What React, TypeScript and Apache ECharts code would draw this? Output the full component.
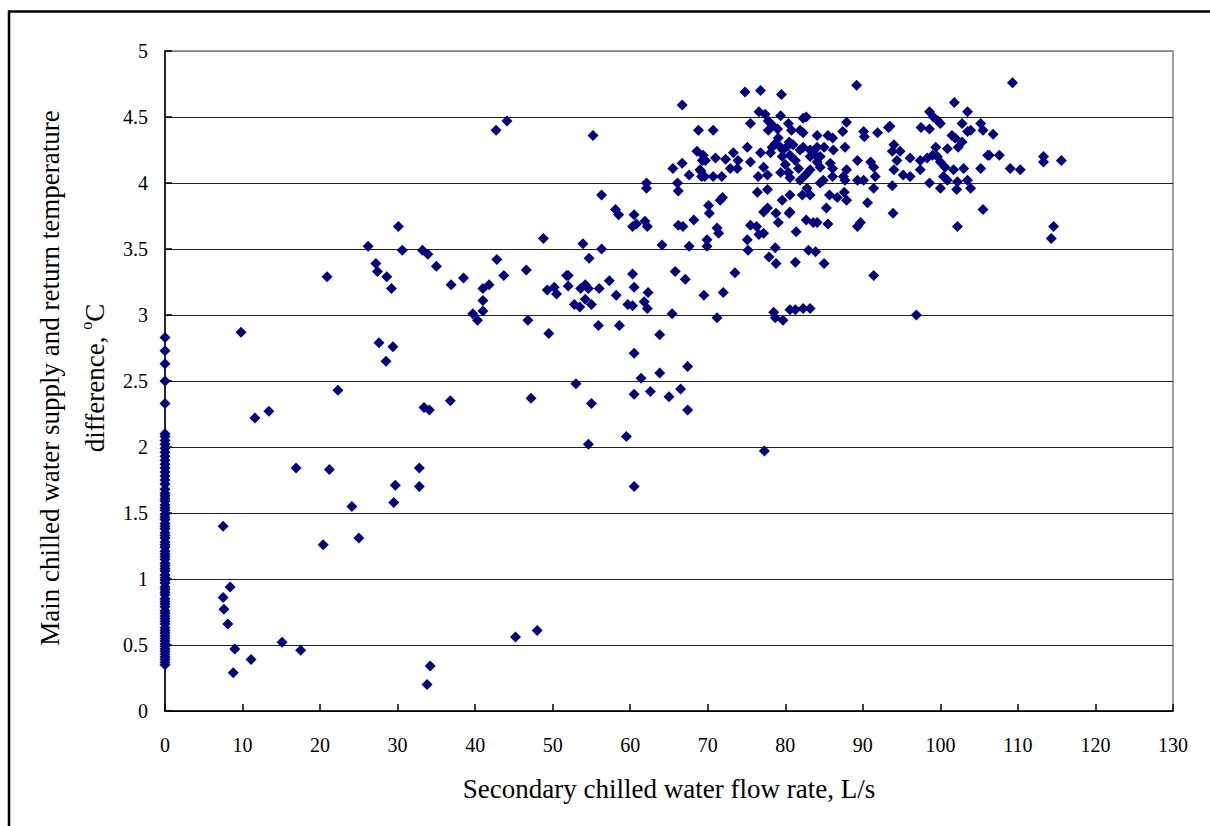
import React, { useEffect, useRef } from "react";
import * as echarts from "echarts";

// Flow rate = 0 L/s: temperature differences (°C)
const zeroFlowDeltaT: number[] = [
  0.35, 0.37, 0.39, 0.41, 0.43, 0.45, 0.47, 0.49, 0.51, 0.53, 0.55, 0.57, 0.59, 0.61, 0.63,
  0.66, 0.68, 0.7, 0.72, 0.74, 0.76, 0.79, 0.81, 0.83, 0.85, 0.88, 0.9, 0.92, 0.94, 0.97,
  0.99, 1.01, 1.03, 1.06, 1.08, 1.1, 1.12, 1.15, 1.17, 1.19, 1.21, 1.24, 1.26, 1.28, 1.31,
  1.33, 1.35, 1.38, 1.4, 1.42, 1.45, 1.47, 1.49, 1.52, 1.54, 1.56, 1.59, 1.61, 1.63, 1.65,
  1.68, 1.72, 1.75, 1.78, 1.81, 1.84, 1.87, 1.9, 1.93, 1.96, 1.99, 2.02, 2.05, 2.08, 2.1,
  2.33, 2.5, 2.63, 2.73, 2.83,
];

// [flow rate L/s, temperature difference °C]
const lowFlowPoints: [number, number][] = [
  [7.5, 1.4], [7.5, 0.86], [7.6, 0.77], [8.1, 0.66], [8.4, 0.94], [9.0, 0.47], [8.8, 0.29],
  [9.8, 2.87], [11.1, 0.39], [11.6, 2.22], [13.4, 2.27], [15.1, 0.52], [16.9, 1.84], [17.5, 0.46],
  [20.4, 1.26], [20.9, 3.29], [21.2, 1.83], [22.3, 2.43], [24.1, 1.55], [25.0, 1.31], [26.2, 3.52],
  [27.2, 3.39], [27.4, 3.33], [27.6, 2.79], [28.5, 2.65], [28.6, 3.29], [29.2, 3.2], [29.4, 2.76],
  [29.7, 1.71], [29.5, 1.58], [30.1, 3.67], [30.6, 3.49], [32.8, 1.84], [32.8, 1.7], [33.2, 3.49],
  [33.9, 3.46], [33.4, 2.3], [34.1, 2.28], [33.8, 0.2], [34.2, 0.34], [35.0, 3.37], [36.9, 3.23],
  [36.8, 2.35], [38.5, 3.28], [39.7, 3.01],
];

const midFlowPoints: [number, number][] = [
  [40.3, 2.96], [41.0, 3.2], [41.8, 3.23], [41.0, 3.11], [41.0, 3.03], [42.7, 4.4], [44.1, 4.47],
  [42.8, 3.42], [43.7, 3.3], [45.2, 0.56], [46.6, 3.34], [46.8, 2.96], [47.2, 2.37], [48.0, 0.61],
  [48.8, 3.58], [49.3, 3.19], [50.2, 3.21], [50.5, 3.16], [49.5, 2.86], [51.8, 3.3], [52.0, 3.3],
  [52.0, 3.22], [52.8, 3.08], [53.5, 3.06], [53.6, 3.2], [54.2, 3.23], [54.6, 3.2], [54.2, 3.12],
  [55.0, 3.08], [53.9, 3.54], [54.7, 3.43], [53.0, 2.48], [55.0, 2.33], [54.6, 2.02], [55.2, 4.36],
  [56.0, 3.2], [56.3, 3.5], [56.3, 3.91], [55.9, 2.92], [57.3, 3.26], [58.2, 3.15], [58.6, 2.92],
  [58.1, 3.8], [58.5, 3.76], [59.5, 2.08], [60.3, 3.31], [60.5, 3.21], [59.7, 3.08], [60.3, 3.07],
  [60.5, 3.76], [60.3, 3.67], [60.8, 3.69], [60.5, 2.71], [60.5, 2.4], [60.5, 1.7], [61.4, 2.52],
  [61.9, 3.71], [62.2, 3.67], [62.1, 4.0], [62.1, 3.96], [61.8, 3.1], [62.2, 3.05], [62.3, 3.17],
  [62.6, 2.42], [63.8, 2.56], [63.8, 2.85], [64.1, 3.53], [65.0, 2.38],
];

const highFlowPoints: [number, number][] = [
  [65.4, 3.01], [65.8, 3.33], [65.5, 4.11], [66.7, 4.15], [66.1, 4.0], [66.2, 3.94], [66.7, 4.59],
  [66.5, 2.44], [66.2, 3.68], [66.8, 3.67], [67.1, 3.27], [67.4, 2.28], [67.4, 2.61], [67.6, 3.52],
  [67.6, 4.06], [68.2, 3.72], [68.8, 4.4], [68.6, 4.24], [69.4, 4.21], [69.3, 4.17], [69.1, 4.09],
  [69.2, 4.05], [69.5, 3.15],
  [70.7, 4.4], [69.7, 4.17], [71.0, 4.19], [72.3, 4.18], [73.3, 4.23], [73.9, 4.17], [75.1, 4.27],
  [75.5, 4.16], [76.8, 4.23], [77.2, 4.12], [69.0, 4.1], [69.6, 4.05], [70.7, 4.05], [71.8, 4.05],
  [72.9, 4.11], [73.8, 4.11], [76.5, 4.05], [77.7, 4.06],
  [74.8, 4.69], [76.8, 4.7], [79.5, 4.67], [89.2, 4.74], [101.8, 4.61], [103.5, 4.54], [98.6, 4.54],
  [99.1, 4.5], [99.7, 4.47], [100.0, 4.45],
  [76.6, 4.54], [77.4, 4.52], [77.8, 4.47], [78.3, 4.44], [77.8, 4.4], [79.0, 4.41], [79.4, 4.51],
  [75.5, 4.45], [80.4, 4.45], [80.8, 4.4], [82.3, 4.49], [82.7, 4.5], [81.9, 4.4], [82.3, 4.38],
  [87.9, 4.46], [87.4, 4.39], [84.1, 4.36], [85.5, 4.36], [86.1, 4.34], [90.1, 4.39], [90.2, 4.35],
  [91.9, 4.38], [93.3, 4.42], [93.5, 4.43], [97.5, 4.42], [98.6, 4.41], [102.8, 4.45], [103.5, 4.39],
  [103.9, 4.4], [105.2, 4.45], [105.5, 4.4], [106.8, 4.37], [101.5, 4.36], [101.9, 4.34],
  [102.8, 4.31], [102.3, 4.27], [100.9, 4.26],
  [79.1, 4.34], [78.7, 4.3], [78.3, 4.27], [79.4, 4.27], [79.7, 4.25], [78.1, 4.23], [80.3, 4.28],
  [80.5, 4.31], [81.0, 4.29], [80.6, 4.21], [81.9, 4.25], [82.3, 4.27], [83.2, 4.25], [83.9, 4.21],
  [84.1, 4.27], [84.5, 4.2], [85.0, 4.27], [86.2, 4.25], [87.7, 4.27],
  [79.6, 4.2], [80.0, 4.14], [80.4, 4.08], [81.3, 4.17], [81.7, 4.11], [82.6, 4.06], [79.4, 4.08],
  [80.6, 4.04], [81.9, 4.02], [83.2, 4.2], [84.1, 4.16], [84.5, 4.12], [83.2, 4.1], [85.8, 4.15],
  [86.1, 4.11], [87.9, 4.1], [87.5, 4.05], [89.3, 4.17], [91.0, 4.16], [91.4, 4.12], [91.6, 4.05],
  [89.3, 4.02], [90.1, 4.02],
  [94.0, 4.29], [93.8, 4.24], [94.8, 4.24], [94.4, 4.17], [96.1, 4.19], [95.2, 4.06], [96.1, 4.05],
  [94.0, 4.1], [93.8, 3.98], [97.4, 4.17], [98.3, 4.19], [99.0, 4.21], [99.4, 4.27], [99.6, 4.2],
  [100.0, 4.16], [100.6, 4.12], [97.4, 4.1], [100.4, 4.05], [101.7, 4.1], [103.0, 4.11],
  [100.9, 4.02], [102.2, 4.01], [103.5, 4.02], [103.9, 3.96], [102.1, 3.95], [100.0, 3.96],
  [98.6, 4.0], [105.2, 4.11], [105.5, 3.8], [102.2, 3.67], [106.1, 4.21],
  [76.4, 3.93], [77.7, 3.95], [70.1, 3.83], [70.2, 3.77], [71.6, 3.87], [71.9, 3.89], [71.2, 3.66],
  [71.4, 3.62], [69.9, 3.57], [69.9, 3.52], [73.5, 3.32], [72.0, 3.17], [71.2, 2.98],
  [77.2, 3.78], [77.7, 3.81], [78.8, 3.77], [79.1, 3.7], [80.6, 3.78], [75.5, 3.68], [76.3, 3.67],
  [76.6, 3.61], [77.2, 3.62], [75.1, 3.57], [75.2, 3.49], [77.9, 3.44], [81.3, 3.4], [78.7, 3.51],
  [79.6, 3.87], [80.6, 3.91], [82.2, 3.91], [82.8, 3.96], [83.2, 3.91], [84.5, 4.0], [84.9, 4.02],
  [86.1, 4.05], [87.7, 4.02], [85.7, 3.91], [86.7, 3.89], [87.9, 3.87], [87.6, 3.93], [85.3, 3.81],
  [80.5, 3.77], [82.7, 3.72], [83.6, 3.7], [84.1, 3.7], [85.5, 3.69], [81.4, 3.63], [89.3, 3.67],
  [89.7, 3.7], [90.6, 3.85], [91.4, 3.3], [93.9, 3.77], [91.4, 3.96],
  [78.5, 3.02], [78.7, 2.98], [79.7, 2.96], [80.6, 3.04], [81.3, 3.04], [82.3, 3.05], [83.2, 3.05],
  [96.9, 3.0], [78.8, 3.39], [85.0, 3.39], [83.9, 3.48], [83.0, 3.49], [77.3, 1.97],
  [109.3, 4.76], [106.3, 4.21], [107.6, 4.21], [109.0, 4.11], [110.3, 4.1], [113.3, 4.2],
  [113.3, 4.16], [115.6, 4.17], [114.6, 3.67], [114.3, 3.58],
];

const xTitle = "Secondary chilled water flow rate, L/s";
const yTitleLine1 = "Main chilled water supply and return temperature";
const yTitleLine2 = "difference, ";
const FONT = '"Liberation Serif", "Times New Roman", serif';

export default function App() {
  const ref = useRef<HTMLDivElement>(null);

  useEffect(() => {
    if (!ref.current) return;
    const chart = echarts.init(ref.current, undefined, { renderer: "svg" });
    const data: [number, number][] = [
      ...zeroFlowDeltaT.map((y) => [0, y] as [number, number]),
      ...lowFlowPoints,
      ...midFlowPoints,
      ...highFlowPoints,
    ];
    const splitColors = ["#000", "#222", "#222", "#222", "#222", "#222", "#222", "#222", "#222", "#222", "#808080"];
    chart.setOption({
      animation: false,
      backgroundColor: "#fff",
      grid: {
        left: 165,
        top: 51,
        right: 37,
        bottom: 115,
        show: true,
        borderColor: "#808080",
        borderWidth: 1.5,
        backgroundColor: "transparent",
      },
      xAxis: {
        type: "value",
        min: 0,
        max: 130,
        interval: 10,
        name: xTitle,
        nameLocation: "middle",
        nameGap: 64,
        nameTextStyle: { fontFamily: FONT, fontSize: 27, color: "#000" },
        axisLine: { show: true, onZero: false, lineStyle: { color: "#000", width: 1.5 } },
        axisTick: { show: true, inside: true, length: 7, lineStyle: { color: "#000", width: 1.5 } },
        axisLabel: { margin: 24, fontFamily: FONT, fontSize: 20, color: "#000" },
        splitLine: { show: false },
      },
      yAxis: {
        type: "value",
        min: 0,
        max: 5,
        interval: 0.5,
        axisLine: { show: true, onZero: false, lineStyle: { color: "#000", width: 1.5 } },
        axisTick: { show: true, inside: true, length: 7, lineStyle: { color: "#000", width: 1.5 } },
        axisLabel: { margin: 17, fontFamily: FONT, fontSize: 20, color: "#000" },
        splitLine: { show: true, lineStyle: { color: splitColors, width: 1.2 } },
      },
      graphic: [
        {
          type: "rect",
          shape: { x: 9, y: 11.5, width: 1400, height: 1000 },
          style: { fill: "none", stroke: "#000", lineWidth: 2.5 },
          silent: true,
        },
        {
          type: "text",
          x: 50,
          y: 378,
          rotation: Math.PI / 2,
          style: {
            text: yTitleLine1,
            font: `27px ${FONT}`,
            fill: "#000",
            align: "center",
            verticalAlign: "middle",
          },
        },
        {
          type: "text",
          x: 93,
          y: 378,
          rotation: Math.PI / 2,
          style: {
            text: `{n|${yTitleLine2}}{s|o}{n|C}`,
            fill: "#000",
            align: "center",
            verticalAlign: "middle",
            rich: {
              n: { fontFamily: FONT, fontSize: 27, lineHeight: 30, fill: "#000", verticalAlign: "bottom" },
              s: { fontFamily: FONT, fontSize: 16, lineHeight: 30, fill: "#000", verticalAlign: "top" },
            },
          },
        },
      ],
      series: [
        {
          type: "scatter",
          data,
          symbol: "diamond",
          symbolSize: 11,
          itemStyle: { color: "#000080", opacity: 1 },
          emphasis: { disabled: true },
        },
      ],
    });
    return () => chart.dispose();
  }, []);

  return (
    <div
      ref={ref}
      style={{ position: "fixed", left: 0, top: 0, width: 1210, height: 826, background: "#fff" }}
    />
  );
}
